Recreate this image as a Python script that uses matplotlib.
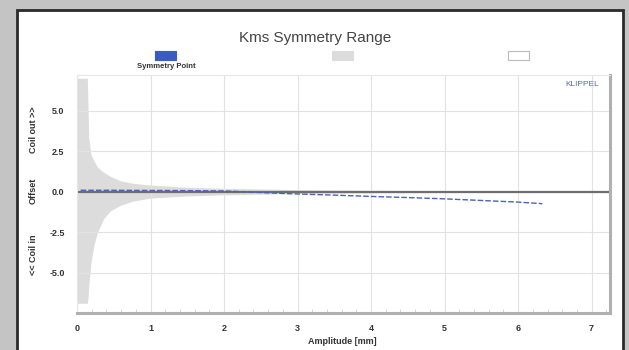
import matplotlib.pyplot as plt
from matplotlib.patches import Rectangle
from matplotlib.ticker import MultipleLocator

plt.rcParams['font.family'] = ['Liberation Sans', 'DejaVu Sans']

# data
env_x = [0.0, 0.14, 0.15, 0.16, 0.19, 0.23, 0.28, 0.36, 0.45, 0.59, 0.75, 1.0,
         1.5, 2.0, 3.0, 4.0, 5.0, 6.0, 6.33]
env_upper = [7.0, 7.0, 5.2, 3.3, 2.3, 1.9, 1.5, 1.2, 0.95, 0.67, 0.52, 0.4,
             0.27, 0.2, 0.12, 0.08, 0.06, 0.04, 0.03]
env_lower = [-6.9, -6.9, -6.6, -5.8, -4.4, -3.3, -2.5, -1.7, -1.2, -0.85, -0.6,
             -0.4, -0.27, -0.2, -0.12, -0.08, -0.06, -0.04, -0.03]

sym_x = [0.05, 0.5, 1.0, 1.5, 2.0, 2.6, 3.0, 3.5, 4.0, 4.5, 5.0, 5.5, 6.0, 6.33]
sym_y = [0.08, 0.08, 0.07, 0.06, 0.04, -0.08, -0.15, -0.22, -0.3, -0.37, -0.45,
         -0.55, -0.65, -0.75]

x_ticks = [0, 1, 2, 3, 4, 5, 6, 7]
y_ticks = [-5.0, -2.5, 0.0, 2.5, 5.0]

W, H = 629, 350
fig = plt.figure(figsize=(W / 100, H / 100), dpi=100)
fig.patch.set_facecolor('#c4c4c4')

# white panel with dark border, kept behind the axes
panel = Rectangle((17 / W, -0.05), 606 / W, 1 - 10 / H + 0.05,
                  transform=fig.transFigure, facecolor='white',
                  edgecolor='#2a2a2a', lw=2, zorder=-10)
fig.patches.append(panel)

ax = fig.add_axes([77 / W, 37 / H, 533 / W, 238 / H])
ax.set_zorder(5)
ax.set_facecolor('white')

ax.fill_between(env_x, env_lower, env_upper, color='#dcdcdc', lw=0, zorder=1)
ax.axhline(0, color='#6e6e6e', lw=1.6, zorder=2)
ax.plot(sym_x, sym_y, color='#4a62b8', lw=1.0, ls=(0, (4, 1.5)), zorder=3)

ax.set_xlim(0, 7.25)
ax.set_ylim(-7.5, 7.2)
ax.set_xticks(x_ticks)
ax.set_yticks(y_ticks)
ax.set_xticklabels([str(t) for t in x_ticks])
ax.set_yticklabels(['%.1f' % t for t in y_ticks])
ax.xaxis.set_minor_locator(MultipleLocator(0.2))
ax.grid(True, which='major', color='#e2e2e2', lw=0.8, zorder=0)
ax.tick_params(axis='both', which='major', length=0, labelsize=6.5,
               labelcolor='#333333', pad=8)
ax.tick_params(axis='x', which='minor', direction='in', length=3,
               color='#cccccc')
ax.tick_params(axis='y', which='major', pad=9)
for lab in ax.get_xticklabels() + ax.get_yticklabels():
    lab.set_fontweight('bold')

for side in ['top', 'left']:
    ax.spines[side].set_color('#e6e6e6')
    ax.spines[side].set_linewidth(0.8)
for side in ['bottom', 'right']:
    ax.spines[side].set_color('#b0b0b0')
    ax.spines[side].set_linewidth(2.2)

ax.set_xlabel('Amplitude [mm]', fontsize=6.5, fontweight='bold',
              color='#333333', labelpad=2)
ax.xaxis.set_label_coords((342 - 77) / 533, -0.10)

# title, legend and labels
fig.text(315 / W, 1 - 38 / H, 'Kms Symmetry Range', ha='center', va='center',
         fontsize=11, color='#444444')

legend_items = [('#3a5bbf', '#3a5bbf', 155), ('#dcdcdc', '#dcdcdc', 332),
                ('white', '#bbbbbb', 508)]
for fc, ec, px in legend_items:
    fig.patches.append(Rectangle((px / W, 1 - 60 / H), 21 / W, 9 / H,
                                 transform=fig.transFigure, facecolor=fc,
                                 edgecolor=ec, lw=0.8))
fig.text(166 / W, 1 - 67 / H, 'Symmetry Point', ha='center', va='center',
         fontsize=5.5, fontweight='bold', color='#333333')

fig.text(582 / W, 1 - 85 / H, 'KLIPPEL', ha='center', va='center',
         fontsize=6, color='#5a6ab0', zorder=10)

fig.text(33 / W, 1 - 130 / H, 'Coil out >>', rotation=90, ha='center',
         va='center', fontsize=6.5, fontweight='bold', color='#333333')
fig.text(33 / W, 1 - 191 / H, 'Offset', rotation=90, ha='center',
         va='center', fontsize=6.5, fontweight='bold', color='#333333')
fig.text(33 / W, 1 - 255 / H, '<< Coil in', rotation=90, ha='center',
         va='center', fontsize=6.5, fontweight='bold', color='#333333')

fig.savefig('out.png', dpi=100, facecolor=fig.get_facecolor())
